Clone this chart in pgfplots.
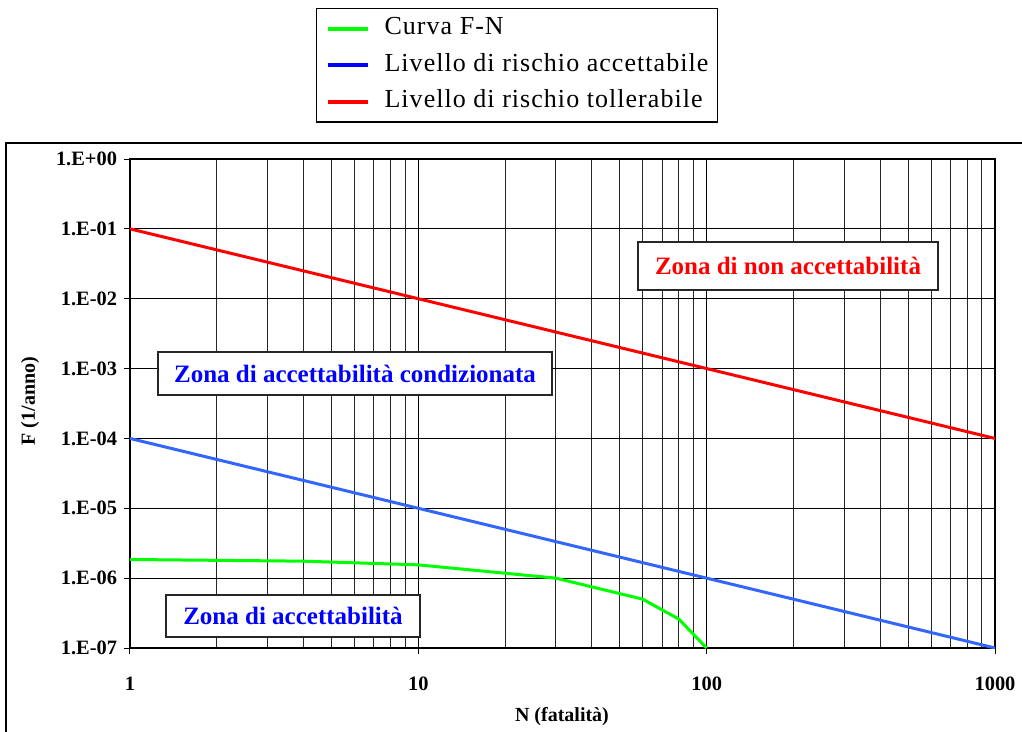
\documentclass[border=0pt]{standalone}
\usepackage{fontspec}
\setmainfont{Liberation Serif}
\usepackage{pgfplots}
\pgfplotsset{compat=1.18}
\definecolor{lineblue}{RGB}{51,102,255}
\definecolor{fngreen}{RGB}{0,255,0}
\begin{document}
\begin{tikzpicture}
\path[use as bounding box] (0,0) rectangle (511pt,-366pt);
\draw[line width=1.2pt] (3pt,-380pt) -- (3pt,-71.5pt) -- (520pt,-71.5pt);
\begin{axis}[
  at={(65pt,-324pt)}, anchor=south west,
  scale only axis, width=432.5pt, height=244.5pt,
  xmode=log, ymode=log,
  xmin=1, xmax=1000, ymin=1e-7, ymax=1,
  xtick={1,10,100,1000},
  xticklabels={1,10,100,1000},
  ytick={1e-7,1e-6,1e-5,1e-4,1e-3,1e-2,1e-1,1},
  yticklabels={1.E-07,1.E-06,1.E-05,1.E-04,1.E-03,1.E-02,1.E-01,1.E+00},
  yminorticks=false, xminorticks=true,
  xmajorgrids=true, xminorgrids=true, ymajorgrids=true, yminorgrids=false,
  major grid style={black, line width=0.5pt},
  minor grid style={black!85, line width=0.5pt},
  tick align=outside, major tick length=3pt, minor tick length=0pt,
  tick style={black, line width=0.5pt},
  xtick pos=bottom, ytick pos=left,
  axis line style={black, line width=0.7pt},
  tick label style={font=\fontsize{10.2}{12}\selectfont\bfseries},
  xticklabel style={yshift=-8pt},
  xlabel={N (fatalità)}, ylabel={F (1/anno)},
  label style={font=\fontsize{10}{12}\selectfont\bfseries},
  xlabel style={at={(axis description cs:0.4994,-0.141)}, anchor=center},
  ylabel style={at={(axis description cs:-0.1156,0.505)}, anchor=center, rotate=0},
  legend style={at={(axis description cs:0.215,1.3088)}, anchor=north west,
    draw=black, line width=0.6pt, fill=white,
    font=\fontsize{13}{15}\selectfont\addfontfeature{LetterSpace=4},
    inner xsep=4.5pt, inner ysep=4pt, row sep=6.35pt, column sep=7.5pt,
    nodes={inner sep=0pt, text height=9pt, text depth=3pt}},
  legend cell align=left,
  legend image code/.code={\draw[#1, line width=2pt] (0pt,0pt) -- (20pt,0pt);},
]
\addlegendimage{fngreen}
\addlegendentry{Curva F-N}
\addlegendimage{blue}
\addlegendentry{Livello di rischio accettabile}
\addlegendimage{red}
\addlegendentry{Livello di rischio tollerabile}

\addplot[forget plot, red, line width=1.5pt] coordinates {(1,1e-1) (1000,1e-4)};
\addplot[forget plot, lineblue, line width=1.5pt] coordinates {(1,1e-4) (1000,1e-7)};
\addplot[forget plot, fngreen, line width=1.5pt] coordinates {
  (1,1.85e-6) (4,1.75e-6) (10,1.55e-6) (30,1.0e-6) (60,5.0e-7) (80,2.6e-7) (100,1e-7)};
\end{axis}
\begin{scope}[x=0.5pt,y=-0.5pt]
\node[draw=black!85, line width=0.8pt, fill=white, minimum width=150pt, minimum height=24pt, inner sep=0pt,
  text=red, font=\fontsize{12.5}{14}\selectfont\bfseries] at (788,266) {Zona di non accettabilità};
\node[draw=black!85, line width=0.8pt, fill=white, minimum width=197pt, minimum height=21.5pt, inner sep=0pt,
  text=blue, font=\fontsize{12.5}{14}\selectfont\bfseries] at (355,373.5) {Zona di accettabilità condizionata};
\node[draw=black!85, line width=0.8pt, fill=white, minimum width=127pt, minimum height=21pt, inner sep=0pt,
  text=blue, font=\fontsize{12.5}{14}\selectfont\bfseries] at (293,616) {Zona di accettabilità};
\end{scope}
\end{tikzpicture}
\end{document}
